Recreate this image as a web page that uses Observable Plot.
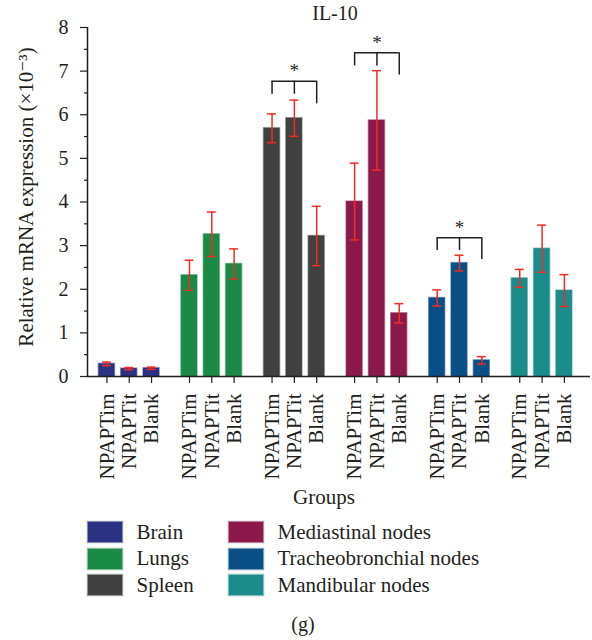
<!DOCTYPE html>
<html><head><meta charset="utf-8">
<script src="https://cdn.jsdelivr.net/npm/d3@7"></script>
<script src="https://cdn.jsdelivr.net/npm/@observablehq/plot@0.6"></script>
<style>
body{margin:0;background:#fff;font-family:"Liberation Serif","DejaVu Serif",serif;color:#231f20}
#wrap{position:relative;width:592px;height:640px;overflow:hidden}
#title{position:absolute;left:235px;width:200px;top:3px;text-align:center;font-size:20px;line-height:20px}
#caption{position:absolute;left:253px;width:100px;top:614px;text-align:center;font-size:20px;line-height:20px}
.sw{position:absolute;width:34px;height:20px;border:1px solid rgba(255,255,255,0.45);box-shadow:0 0 0 0.5px rgba(0,0,0,0.15)}
.lt{position:absolute;font-size:21px;line-height:22px;white-space:nowrap}
svg text{font-family:"Liberation Serif","DejaVu Serif",serif}
</style></head><body>
<div id="wrap"><div id="chart"></div><div id="title">IL-10</div><div id="legend"></div><div id="caption">(g)</div></div>
<script>
// ---- data ----
const organs = ["Brain", "Lungs", "Spleen", "Mediastinal nodes", "Tracheobronchial nodes", "Mandibular nodes"];
const treatments = ["NPAPTim", "NPAPTit", "Blank"];
const colors = ["#2c3181", "#1a8a46", "#414141", "#8b1a4b", "#0b4f87", "#1c8b8b"];
const means = [
  [0.29, 0.18, 0.19],
  [2.32, 3.26, 2.58],
  [5.69, 5.92, 3.22],
  [4.01, 5.87, 1.45],
  [1.80, 2.60, 0.37],
  [2.25, 2.93, 1.97]
];
const sds = [
  [0.04, 0.025, 0.025],
  [0.345, 0.51, 0.345],
  [0.33, 0.415, 0.68],
  [0.88, 1.14, 0.22],
  [0.185, 0.18, 0.085],
  [0.205, 0.54, 0.365]
];
const yTicks = [0, 1, 2, 3, 4, 5, 6, 7, 8];
const yMinorTicks = [0.5, 1.5, 2.5, 3.5, 4.5, 5.5, 6.5, 7.5];
const yLabel = "Relative mRNA expression (×10⁻³)";
const xLabel = "Groups";
const sigGroups = [2, 3, 4];
const sigTop = [6.77, 7.42, 3.18];
const sigLegLow = [[6.47, 6.47, 6.25], [7.12, 7.12, 6.91], [2.89, 2.89, 2.68]];
const sigLabel = ["*", "*", "*"];

// ---- layout helpers ----
const GROUP_STEP = 3.7, HALF_BAR = 0.36, CAP = 0.2;
const pos = (g, t) => g * GROUP_STEP + t;

const rows = [];
organs.forEach((o, g) => treatments.forEach((t, i) => {
  rows.push({organ: o, treatment: t, x: pos(g, i), mean: means[g][i], lo: means[g][i] - sds[g][i], hi: means[g][i] + sds[g][i]});
}));
const tickLabel = new Map(rows.map(d => [d.x, d.treatment]));

const brackets = [], legs = [], stars = [];
sigGroups.forEach((g, k) => {
  brackets.push({x1: pos(g, 0), x2: pos(g, 2), y: sigTop[k]});
  treatments.forEach((t, i) => legs.push({x: pos(g, i), y1: sigLegLow[k][i], y2: sigTop[k]}));
  stars.push({x: pos(g, 1), y: sigTop[k], label: sigLabel[k]});
});

const FONT = '"Liberation Serif", "DejaVu Serif", serif';
const INK = "#231f20";
const RED = "#ee2e24";

const chart = Plot.plot({
  width: 592,
  height: 512,
  marginLeft: 87,
  marginRight: 2,
  marginTop: 27,
  marginBottom: 136,
  style: {fontFamily: FONT, fontSize: "20px", color: INK, background: "transparent"},
  x: {domain: [-0.87, 21.67]},
  y: {domain: [0, 8]},
  color: {domain: organs, range: colors},
  marks: [
    Plot.rectY(rows, {x1: d => d.x - HALF_BAR, x2: d => d.x + HALF_BAR, y: "mean", fill: "organ", stroke: "organ", strokeOpacity: 0.45, strokeWidth: 1.5}),
    Plot.ruleX(rows, {x: "x", y1: "lo", y2: "hi", stroke: RED, strokeWidth: 1.5}),
    Plot.ruleY(rows, {x1: d => d.x - CAP, x2: d => d.x + CAP, y: "hi", stroke: RED, strokeWidth: 1.5}),
    Plot.ruleY(rows, {x1: d => d.x - CAP, x2: d => d.x + CAP, y: "lo", stroke: RED, strokeWidth: 1.5}),
    Plot.ruleY(brackets, {x1: "x1", x2: "x2", y: "y", stroke: INK, strokeWidth: 1.5}),
    Plot.ruleX(legs, {x: "x", y1: "y1", y2: "y2", stroke: INK, strokeWidth: 1.5}),
    Plot.text(stars, {x: "x", y: "y", text: "label", dy: -10, fontSize: 19, fill: INK, fontFamily: FONT}),
    Plot.ruleY([0], {stroke: INK, strokeWidth: 1.5}),
    Plot.ruleX([-0.87], {y1: 0, y2: 8, stroke: INK, strokeWidth: 1.5}),
    Plot.axisY({ticks: yTicks, tickSize: 7, tickPadding: 12, fontSize: 20, fontFamily: FONT, stroke: INK, strokeWidth: 1.2, label: null}),
    Plot.axisY({ticks: yMinorTicks, tickSize: 3, tickFormat: () => "", label: null, stroke: INK, strokeWidth: 1.2}),
    Plot.axisX({ticks: rows.map(d => d.x), tickFormat: d => tickLabel.get(d), tickRotate: -90, tickSize: 7, tickPadding: 10,
      fontSize: 21, fontFamily: FONT, stroke: INK, strokeWidth: 1.2, label: null}),
    Plot.text([yLabel], {frameAnchor: "left", textAnchor: "middle", rotate: -90, dx: -61, dy: -5, lineAnchor: "middle", fontSize: 21, fill: INK, fontFamily: FONT}),
    Plot.text([xLabel], {frameAnchor: "bottom", dx: -15, dy: 121, lineAnchor: "middle", fontSize: 21, fill: INK, fontFamily: FONT})
  ]
});
document.getElementById("chart").appendChild(chart);

// ---- legend ----
const legend = document.getElementById("legend");
organs.forEach((o, i) => {
  const col = Math.floor(i / 3), row = i % 3;
  const left = 87 + col * 141, top = 521 + row * 26.6;
  const sw = document.createElement("div");
  sw.className = "sw";
  sw.style.left = left + "px"; sw.style.top = top + "px"; sw.style.background = colors[i];
  const lt = document.createElement("div");
  lt.className = "lt";
  lt.style.left = (left + 49.5) + "px"; lt.style.top = (top - 0.5) + "px";
  lt.textContent = o;
  legend.appendChild(sw); legend.appendChild(lt);
});
</script>
</body></html>
